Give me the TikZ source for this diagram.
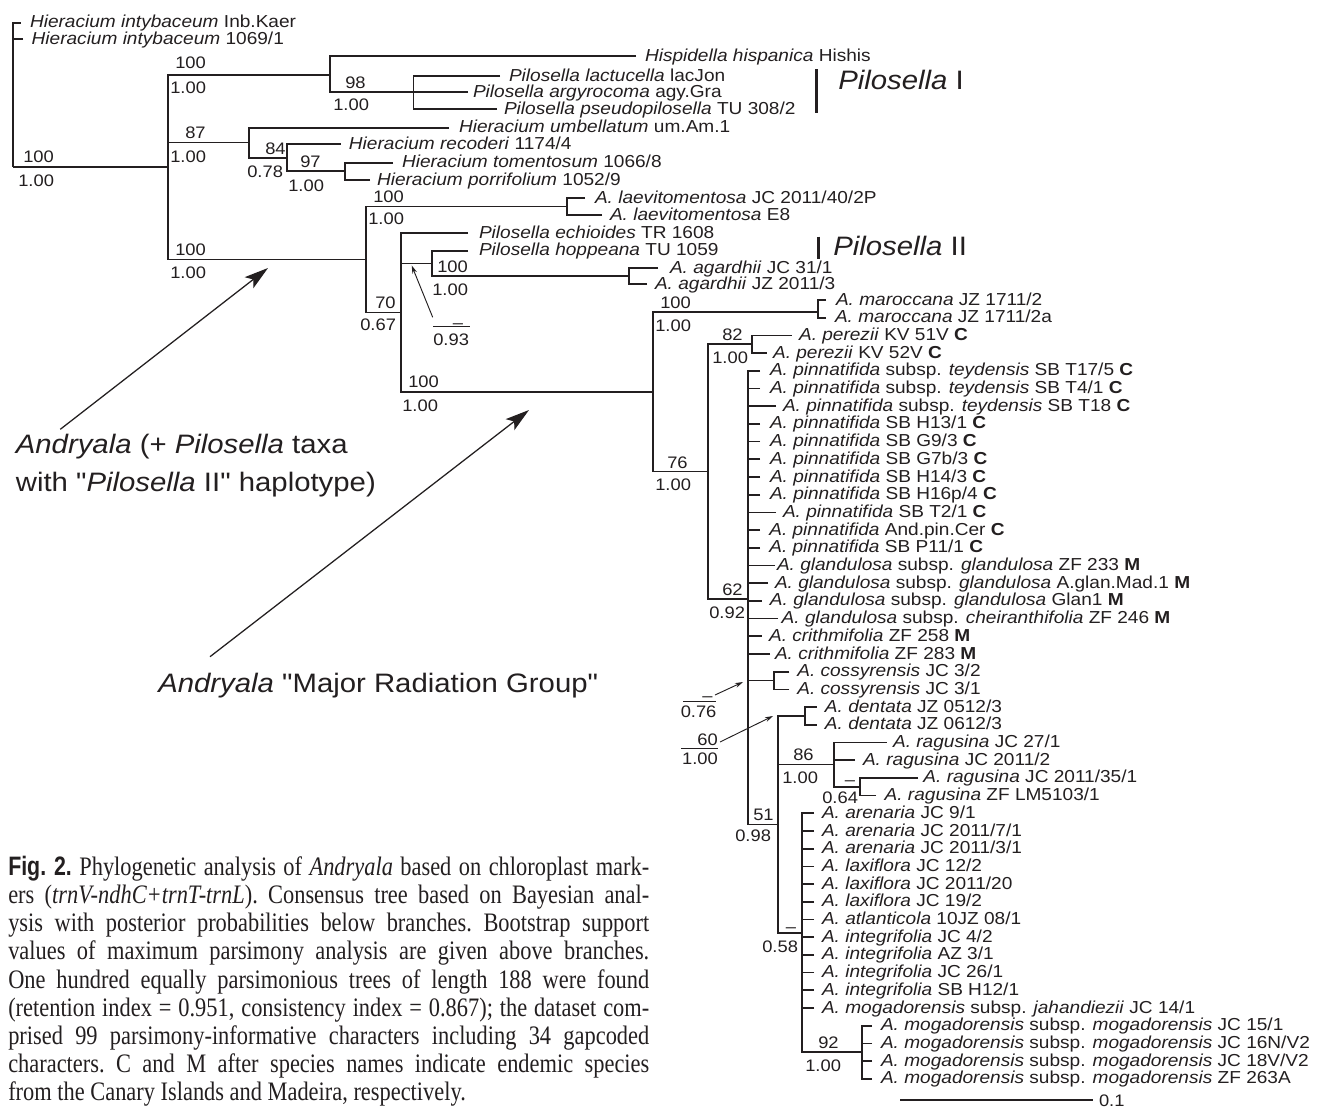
\documentclass[tikz,border=0pt]{standalone}
\usepackage{fontspec}
\setmainfont{Liberation Sans}[FakeStretch=1.1]
\newfontfamily\annsans{Liberation Sans}[FakeStretch=1.1, Ligatures=TeXOff]
\newfontfamily\capserif{Liberation Serif}[FakeStretch=0.84]
\newfontfamily\capsans{Liberation Sans}[FakeStretch=0.8]
\usetikzlibrary{arrows.meta}
\definecolor{ink}{HTML}{231F20}
\newcommand\leaffont{\fontsize{13}{15}\selectfont}
\newcommand\suppfont{\fontsize{12.5}{14}\selectfont}
\newcommand\annfont{\annsans\fontsize{20}{24}\selectfont}
\begin{document}
\begin{tikzpicture}[x=0.75pt,y=-0.75pt,
  lgap/.store in=\lgapval, lgap=6pt,
  leaf/.style={anchor=west, inner sep=0pt, outer sep=0pt, text height=9pt, text depth=1.5pt,
    font=\leaffont, text=ink, execute at begin node={\hspace*{\lgapval}}},
  supp/.style={anchor=base west, inner sep=0pt, font=\suppfont, text=ink},
  ann/.style={anchor=base west, inner sep=0pt, font=\annfont, text=ink},
  branch/.style={draw=ink, line width=1.3pt, line join=miter},
  rulel/.style={draw=ink, line width=0.75pt},
  smallarrow/.style={draw=ink, line width=0.7pt, -{Stealth[length=6pt,width=3.6pt]}},
  bigarrow/.style={draw=ink, line width=0.95pt, -{Stealth[length=18pt,width=10.5pt,inset=4pt]}},
  pbar/.style={draw=ink, line width=2.5pt}]
\fill[white] (0,0) rectangle (1319,1107);
\useasboundingbox (0,0) rectangle (1319,1107);

% ---------- upper leaves ----------
\node[leaf, lgap=7pt] (u1) at (20.7,22.7) {\textit{Hieracium intybaceum} Inb.Kaer};
\node[leaf, lgap=6.5pt] (u2) at (23,39.3) {\textit{Hieracium intybaceum} 1069/1};
\node[leaf, lgap=6.75pt] (u3) at (636,56) {\textit{Hispidella hispanica} Hishis};
\node[leaf, lgap=6.75pt] (u4) at (500,76) {\textit{Pilosella lactucella} lacJon};
\node[leaf, lgap=3.75pt] (u5) at (468,92.3) {\textit{Pilosella argyrocoma} agy.Gra};
\node[leaf, lgap=5.25pt] (u6) at (497,109.3) {\textit{Pilosella pseudopilosella} TU 308/2};
\node[leaf, lgap=7.5pt] (u7) at (449,127.7) {\textit{Hieracium umbellatum} um.Am.1};
\node[leaf, lgap=6.2pt] (u8) at (340.7,144.3) {\textit{Hieracium recoderi} 1174/4};
\node[leaf, lgap=6.75pt] (u9) at (393,162.7) {\textit{Hieracium tomentosum} 1066/8};
\node[leaf, lgap=5.25pt] (u10) at (370,180) {\textit{Hieracium porrifolium} 1052/9};
\node[leaf, lgap=7.5pt] (u11) at (585,198) {\textit{A. laevitomentosa} JC 2011/40/2P};
\node[leaf, lgap=6pt] (u12) at (602,215) {\textit{A. laevitomentosa} E8};
\node[leaf, lgap=8.25pt] (u13) at (468,233.3) {\textit{Pilosella echioides} TR 1608};
\node[leaf, lgap=8.25pt] (u14) at (468,250.7) {\textit{Pilosella hoppeana} TU 1059};
\node[leaf, lgap=9pt] (u15) at (658,268.3) {\textit{A. agardhii} JC 31/1};
\node[leaf, lgap=6pt] (u16) at (647,284) {\textit{A. agardhii} JZ 2011/3};

% ---------- lower leaves ----------
\node[leaf, lgap=7.5pt] (l0) at (826,300) {\textit{A. maroccana} JZ 1711/2};
\node[leaf, lgap=6.75pt] (l1) at (826,317.7) {\textit{A. maroccana} JZ 1711/2a};
\node[leaf, lgap=5.5pt] (l2) at (791.7,335.4) {\textit{A. perezii} KV 51V \textbf{C}};
\node[leaf, lgap=4.75pt] (l3) at (766.7,353.1) {\textit{A. perezii} KV 52V \textbf{C}};
\node[leaf, lgap=7.5pt] (l4) at (760,370.8) {\textit{A. pinnatifida} subsp. \textit{teydensis} SB T17/5 \textbf{C}};
\node[leaf, lgap=7.5pt] (l5) at (760,388.5) {\textit{A. pinnatifida} subsp. \textit{teydensis} SB T4/1 \textbf{C}};
\node[leaf, lgap=5.25pt] (l6) at (776,406.2) {\textit{A. pinnatifida} subsp. \textit{teydensis} SB T18 \textbf{C}};
\node[leaf, lgap=7.5pt] (l7) at (760,423.9) {\textit{A. pinnatifida} SB H13/1 \textbf{C}};
\node[leaf, lgap=7.5pt] (l8) at (760,441.6) {\textit{A. pinnatifida} SB G9/3 \textbf{C}};
\node[leaf, lgap=7.5pt] (l9) at (760,459.3) {\textit{A. pinnatifida} SB G7b/3 \textbf{C}};
\node[leaf, lgap=7.5pt] (l10) at (760,477) {\textit{A. pinnatifida} SB H14/3 \textbf{C}};
\node[leaf, lgap=7.5pt] (l11) at (760,494.7) {\textit{A. pinnatifida} SB H16p/4 \textbf{C}};
\node[leaf, lgap=5.25pt] (l12) at (776,512.4) {\textit{A. pinnatifida} SB T2/1 \textbf{C}};
\node[leaf, lgap=7pt] (l13) at (760,530.1) {\textit{A. pinnatifida} And.pin.Cer \textbf{C}};
\node[leaf, lgap=7pt] (l14) at (760,547.8) {\textit{A. pinnatifida} SB P11/1 \textbf{C}};
\node[leaf, lgap=1.5pt] (l15) at (775,565.5) {\textit{A. glandulosa} subsp. \textit{glandulosa} ZF 233 \textbf{M}};
\node[leaf, lgap=5.25pt] (l16) at (768,583.2) {\textit{A. glandulosa} subsp. \textit{glandulosa} A.glan.Mad.1 \textbf{M}};
\node[leaf, lgap=6.2pt] (l17) at (761.7,600.9) {\textit{A. glandulosa} subsp. \textit{glandulosa} Glan1 \textbf{M}};
\node[leaf, lgap=2.8pt] (l18) at (778,618.6) {\textit{A. glandulosa} subsp. \textit{cheiranthifolia} ZF 246 \textbf{M}};
\node[leaf, lgap=5.5pt] (l19) at (761.7,636.3) {\textit{A. crithmifolia} ZF 258 \textbf{M}};
\node[leaf, lgap=3.75pt] (l20) at (770,654) {\textit{A. crithmifolia} ZF 283 \textbf{M}};
\node[leaf, lgap=6pt] (l21) at (789.3,671.7) {\textit{A. cossyrensis} JC 3/2};
\node[leaf, lgap=6pt] (l22) at (789.3,689.4) {\textit{A. cossyrensis} JC 3/1};
\node[leaf, lgap=6.2pt] (l23) at (816.7,707.1) {\textit{A. dentata} JZ 0512/3};
\node[leaf, lgap=6.2pt] (l24) at (816.7,724.8) {\textit{A. dentata} JZ 0612/3};
\node[leaf, lgap=4.75pt] (l25) at (886.7,742.5) {\textit{A. ragusina} JC 27/1};
\node[leaf, lgap=6pt] (l26) at (855,760.2) {\textit{A. ragusina} JC 2011/2};
\node[leaf, lgap=4.1pt] (l27) at (918,777.9) {\textit{A. ragusina} JC 2011/35/1};
\node[leaf, lgap=6.5pt] (l28) at (876,795.6) {\textit{A. ragusina} ZF LM5103/1};
\node[leaf] (l29) at (814,813.3) {\textit{A. arenaria} JC 9/1};
\node[leaf] (l30) at (814,831) {\textit{A. arenaria} JC 2011/7/1};
\node[leaf] (l31) at (814,848.7) {\textit{A. arenaria} JC 2011/3/1};
\node[leaf] (l32) at (814,866.4) {\textit{A. laxiflora} JC 12/2};
\node[leaf] (l33) at (814,884.1) {\textit{A. laxiflora} JC 2011/20};
\node[leaf] (l34) at (814,901.8) {\textit{A. laxiflora} JC 19/2};
\node[leaf] (l35) at (814,919.5) {\textit{A. atlanticola} 10JZ 08/1};
\node[leaf] (l36) at (814,937.2) {\textit{A. integrifolia} JC 4/2};
\node[leaf] (l37) at (814,954.9) {\textit{A. integrifolia} AZ 3/1};
\node[leaf] (l38) at (814,972.6) {\textit{A. integrifolia} JC 26/1};
\node[leaf] (l39) at (814,990.3) {\textit{A. integrifolia} SB H12/1};
\node[leaf] (l40) at (814,1008) {\textit{A. mogadorensis} subsp. \textit{jahandiezii} JC 14/1};
\node[leaf, lgap=6.75pt] (l41) at (872,1025.7) {\textit{A. mogadorensis} subsp. \textit{mogadorensis} JC 15/1};
\node[leaf, lgap=6.75pt] (l42) at (872,1043.4) {\textit{A. mogadorensis} subsp. \textit{mogadorensis} JC 16N/V2};
\node[leaf, lgap=6.75pt] (l43) at (872,1061.1) {\textit{A. mogadorensis} subsp. \textit{mogadorensis} JC 18V/V2};
\node[leaf, lgap=6.75pt] (l44) at (872,1078.8) {\textit{A. mogadorensis} subsp. \textit{mogadorensis} ZF 263A};

% ---------- internal nodes ----------
\coordinate (root) at (12.7,166.7);
\coordinate (nN1) at (168,166.7);
\coordinate (nP) at (330,75);
\coordinate (nP2) at (413.5,92.3);
\coordinate (nH) at (249,142.6);
\coordinate (nH2) at (287,158);
\coordinate (nH3) at (345,171.35);
\coordinate (nA1) at (366,259.5);
\coordinate (nL) at (567,206.5);
\coordinate (nA2) at (400.7,312.5);
\coordinate (nA3) at (431.7,263.4);
\coordinate (nAg) at (629.3,276.15);
\coordinate (nM1) at (652.7,391.8);
\coordinate (nMa) at (818.3,312);
\coordinate (nP1) at (708.3,471.6);
\coordinate (nPe) at (751.7,344.25);
\coordinate (nQ) at (748.3,599);
\coordinate (nCo) at (774.3,680.55);
\coordinate (nG) at (777.7,824.4);
\coordinate (nD) at (805,715.95);
\coordinate (nR) at (834.3,764.6);
\coordinate (nR2) at (860,786.75);
\coordinate (nI) at (801.7,932.8);
\coordinate (nM2) at (861.7,1052.25);

% ---------- branches ----------
\draw[branch] (u1.west) -| (root);
\draw[branch] (u2.west) -| (root);
\draw[branch] (nN1) -| (root);
\draw[branch] (nP) -| (nN1);
\draw[branch] (nH) -| (nN1);
\draw[branch] (nA1) -| (nN1);
\draw[branch] (u3.west) -| (nP);
\draw[branch] (nP2) -| (nP);
\foreach \c in {u4,u5,u6} \draw[branch] (\c.west) -| (nP2);
\draw[branch] (u7.west) -| (nH);
\draw[branch] (nH2) -| (nH);
\draw[branch] (u8.west) -| (nH2);
\draw[branch] (nH3) -| (nH2);
\draw[branch] (u9.west) -| (nH3);
\draw[branch] (u10.west) -| (nH3);
\draw[branch] (nL) -| (nA1);
\draw[branch] (nA2) -| (nA1);
\draw[branch] (u11.west) -| (nL);
\draw[branch] (u12.west) -| (nL);
\draw[branch] (u13.west) -| (nA2);
\draw[branch] (nA3) -| (nA2);
\draw[branch] (nM1) -| (nA2);
\draw[branch] (u14.west) -| (nA3);
\draw[branch] (nAg) -| (nA3);
\draw[branch] (u15.west) -| (nAg);
\draw[branch] (u16.west) -| (nAg);
\draw[branch] (nMa) -| (nM1);
\draw[branch] (nP1) -| (nM1);
\draw[branch] (l0.west) -| (nMa);
\draw[branch] (l1.west) -| (nMa);
\draw[branch] (nPe) -| (nP1);
\draw[branch] (nQ) -| (nP1);
\draw[branch] (l2.west) -| (nPe);
\draw[branch] (l3.west) -| (nPe);
\foreach \i in {4,...,20} \draw[branch] (l\i.west) -| (nQ);
\draw[branch] (nCo) -| (nQ);
\draw[branch] (nG) -| (nQ);
\draw[branch] (l21.west) -| (nCo);
\draw[branch] (l22.west) -| (nCo);
\draw[branch] (nD) -| (nG);
\draw[branch] (nR) -| (nG);
\draw[branch] (nI) -| (nG);
\draw[branch] (l23.west) -| (nD);
\draw[branch] (l24.west) -| (nD);
\draw[branch] (l25.west) -| (nR);
\draw[branch] (l26.west) -| (nR);
\draw[branch] (nR2) -| (nR);
\draw[branch] (l27.west) -| (nR2);
\draw[branch] (l28.west) -| (nR2);
\foreach \i in {29,...,40} \draw[branch] (l\i.west) -| (nI);
\draw[branch] (nM2) -| (nI);
\foreach \i in {41,...,44} \draw[branch] (l\i.west) -| (nM2);

% ---------- support values ----------
\node[supp] (s1) at (23,162.7) {100};   \node[supp] (s1b) at (18,186) {1.00};
\node[supp] (s2) at (175,68) {100};     \node[supp] (s2b) at (170,93) {1.00};
\node[supp] (s3) at (345,88) {98};      \node[supp] (s3b) at (333,110.5) {1.00};
\node[supp] (s4) at (185,138) {87};     \node[supp] (s4b) at (170,162) {1.00};
\node[supp] (s5) at (265,154) {84};     \node[supp] (s5b) at (247,177) {0.78};
\node[supp] (s6) at (300,167.5) {97};   \node[supp] (s6b) at (288,191) {1.00};
\node[supp] (s7) at (175,255) {100};    \node[supp] (s7b) at (170,278.5) {1.00};
\node[supp] (s8) at (373,202.5) {100};  \node[supp] (s8b) at (368,224) {1.00};
\node[supp] (s9) at (375,308.5) {70};   \node[supp] (s9b) at (360,330) {0.67};
\node[supp] (s10) at (437,272.5) {100}; \node[supp] (s10b) at (432,295.5) {1.00};
\node[supp] (s11) at (408,387.5) {100}; \node[supp] (s11b) at (402,411) {1.00};
\node[supp] (s12) at (660,308.5) {100}; \node[supp] (s12b) at (655,331) {1.00};
\node[supp] (s13) at (667,468) {76};    \node[supp] (s13b) at (655,490) {1.00};
\node[supp] (s14) at (722,340.5) {82};  \node[supp] (s14b) at (712,363.5) {1.00};
\node[supp] (s15) at (722,595) {62};    \node[supp] (s15b) at (709,618) {0.92};
\node[supp] (s16) at (753,820) {51};    \node[supp] (s16b) at (735,841) {0.98};
\node[supp] (s17) at (793,760.5) {86};  \node[supp] (s17b) at (782,783.5) {1.00};
\node[supp, anchor=base] (s18) at (850,785) {–}; \node[supp] (s18b) at (822,803.5) {0.64};
\node[supp, anchor=base] (s19) at (791,932.5) {–}; \node[supp] (s19b) at (762,952) {0.58};
\node[supp] (s20) at (818,1048) {92};   \node[supp] (s20b) at (805,1071) {1.00};

% ---------- fraction labels with arrows ----------
\coordinate (f93a) at (433,326); \coordinate (f93b) at (470,326);
\draw[rulel] (f93a) -- (f93b);
\node[supp, anchor=base] (f93t) at (458,328.5) {–};
\node[supp] (f93) at (433,345) {0.93};
\coordinate (a93s) at (432.7,317.3); \coordinate (a93e) at (411.7,265.5);
\draw[smallarrow] (a93s) -- (a93e);

\coordinate (f76a) at (683,701.5); \coordinate (f76b) at (716,701.5);
\draw[rulel] (f76a) -- (f76b);
\node[supp, anchor=base] (f76t) at (707.5,701.2) {–};
\node[supp, anchor=base east] (f76) at (716.7,717) {0.76};
\coordinate (a76s) at (715,695); \coordinate (a76e) at (743,682);
\draw[smallarrow] (a76s) -- (a76e);

\node[supp, anchor=base east] (f60t) at (718,745) {60};
\coordinate (f60a) at (681,748.5); \coordinate (f60b) at (718,748.5);
\draw[rulel] (f60a) -- (f60b);
\node[supp, anchor=base east] (f60) at (718,764) {1.00};
\coordinate (a60s) at (720,742); \coordinate (a60e) at (773,716);
\draw[smallarrow] (a60s) -- (a60e);

% ---------- group bars ----------
\coordinate (b1a) at (816.7,69.3); \coordinate (b1b) at (816.7,112.7);
\draw[pbar] (b1a) -- (b1b);
\node[ann] (pil1) at (838,89.3) {\textit{Pilosella} I};
\coordinate (b2a) at (818.3,236.7); \coordinate (b2b) at (818.3,259);
\draw[pbar] (b2a) -- (b2b);
\node[ann] (pil2) at (833,255) {\textit{Pilosella} II};

% ---------- annotations ----------
\node[ann] (ann1) at (15.6,453) {\textit{Andryala} (+ \textit{Pilosella} taxa};
\node[ann] (ann2) at (15.6,491.7) {with "\textit{Pilosella} II" haplotype)};
\node[ann] (ann3) at (158,692) {\textit{Andryala} "Major Radiation Group"};
\coordinate (ar1s) at (60.3,429.3); \coordinate (ar1e) at (268,268);
\draw[bigarrow] (ar1s) -- (ar1e);
\coordinate (ar2s) at (210,656.7); \coordinate (ar2e) at (529,410);
\draw[bigarrow] (ar2s) -- (ar2e);

% ---------- scale bar ----------
\coordinate (sbA) at (900,1100);
\node[leaf, font=\suppfont, text depth=0pt, lgap=4.5pt] (sbT) at (1093,1100) {0.1};
\draw[branch] (sbA) -- (sbT.west);

% ---------- caption ----------
\node[anchor=north west, inner sep=0pt, text width=480.75pt, align=justify, text=ink,
  font=\capserif\fontsize{20}{21.15}\selectfont] (cap) at (8,855)
 {\frenchspacing\tolerance=10000\leavevmode\vrule width 0pt height 15pt depth 0pt\relax
  {\capsans\bfseries Fig. 2.} Phylogenetic analysis of \textit{Andryala} based on chloroplast mark-\linebreak
  ers (\textit{trnV-ndhC+trnT-trnL}). Consensus tree based on Bayesian anal-\linebreak
  ysis with posterior probabilities below branches. Bootstrap support\linebreak
  values of maximum parsimony analysis are given above branches.\linebreak
  One hundred equally parsimonious trees of length 188 were found\linebreak
  (retention index = 0.951, consistency index = 0.867); the dataset com-\linebreak
  prised 99 parsimony-informative characters including 34 gapcoded\linebreak
  characters. C and M after species names indicate endemic species\linebreak
  from the Canary Islands and Madeira, respectively.};
\end{tikzpicture}
\end{document}
